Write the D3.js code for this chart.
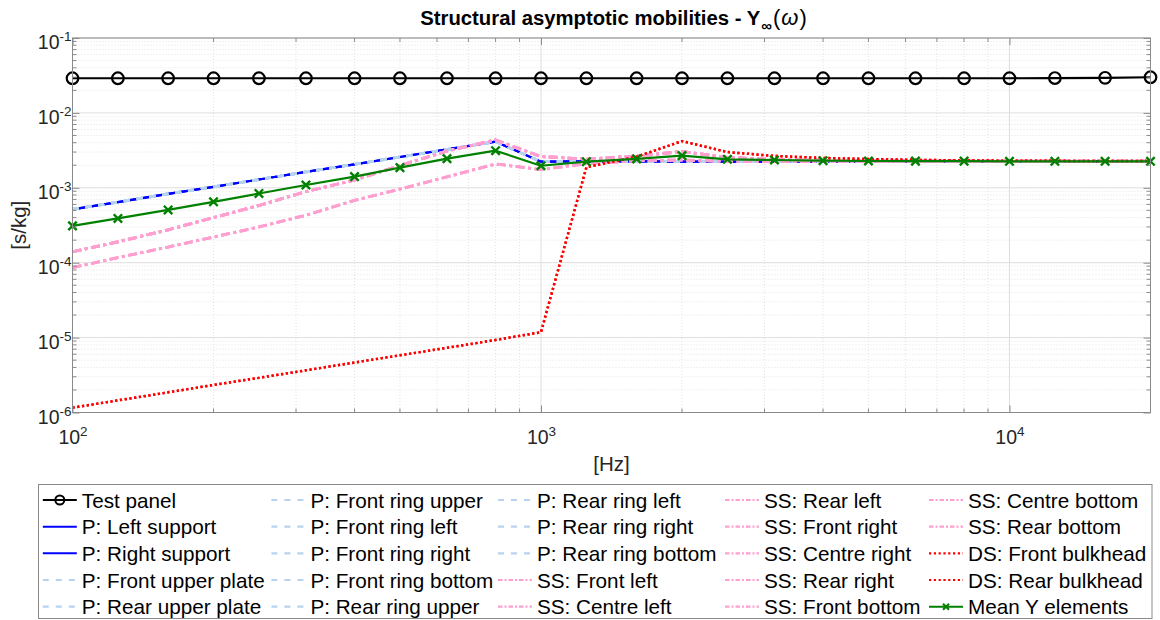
<!DOCTYPE html>
<html>
<head>
<meta charset="utf-8">
<script src="https://cdn.jsdelivr.net/npm/d3@7/dist/d3.min.js"></script>
<style>
  html, body { margin: 0; padding: 0; background: #ffffff; }
  svg { display: block; font-family: "Liberation Sans", Arial, Helvetica, sans-serif; }
</style>
</head>
<body>
<svg id="chart" width="1160" height="620"></svg>
<script>
// ---------------- data ----------------
const freqs = [100,125,160,200,250,315,400,500,630,800,1000,1250,1600,2000,2500,3150,4000,5000,6300,8000,10000,12500,16000,20000];

const testPanel = [0.029,0.029,0.029,0.029,0.029,0.029,0.029,0.029,0.029,0.029,0.029,0.029,0.029,0.029,0.029,0.029,0.029,0.029,0.029,0.029,0.029,0.0292,0.0294,0.0299];

const pSupport = [5.16e-4,6.45e-4,8.3e-4,1.03e-3,1.29e-3,1.63e-3,2.06e-3,2.58e-3,3.25e-3,4.13e-3,2.23e-3,2.26e-3,2.25e-3,2.24e-3,2.24e-3,2.24e-3,2.25e-3,2.25e-3,2.25e-3,2.25e-3,2.25e-3,2.25e-3,2.25e-3,2.25e-3];

const pPanels = [5.16e-4,6.45e-4,8.3e-4,1.03e-3,1.29e-3,1.63e-3,2.06e-3,2.58e-3,3.25e-3,4.13e-3,2.23e-3,2.26e-3,2.25e-3,2.24e-3,2.24e-3,2.24e-3,2.25e-3,2.25e-3,2.25e-3,2.25e-3,2.25e-3,2.25e-3,2.25e-3,2.25e-3];

const ssOuter = [1.4e-4,1.9e-4,2.75e-4,4.0e-4,5.8e-4,8.9e-4,1.27e-3,1.98e-3,3.1e-3,4.35e-3,2.61e-3,2.42e-3,2.65e-3,3.05e-3,2.55e-3,2.38e-3,2.32e-3,2.3e-3,2.28e-3,2.28e-3,2.27e-3,2.27e-3,2.27e-3,2.27e-3];

const ssCentre = [8.6e-5,1.17e-4,1.62e-4,2.2e-4,3.0e-4,4.3e-4,6.8e-4,9.6e-4,1.4e-3,2.08e-3,1.75e-3,2.1e-3,2.3e-3,2.35e-3,2.25e-3,2.24e-3,2.24e-3,2.24e-3,2.24e-3,2.24e-3,2.24e-3,2.24e-3,2.24e-3,2.24e-3];

const dsBulkhead = [1.16e-6,1.45e-6,1.86e-6,2.33e-6,2.9e-6,3.66e-6,4.65e-6,5.8e-6,7.3e-6,9.3e-6,1.18e-5,1.88e-3,2.6e-3,4.2e-3,3.0e-3,2.66e-3,2.5e-3,2.42e-3,2.36e-3,2.32e-3,2.3e-3,2.29e-3,2.28e-3,2.28e-3];

const meanY = [3.1e-4,3.9e-4,5.06e-4,6.5e-4,8.4e-4,1.09e-3,1.41e-3,1.86e-3,2.45e-3,3.13e-3,1.97e-3,2.23e-3,2.43e-3,2.69e-3,2.4e-3,2.35e-3,2.3e-3,2.28e-3,2.27e-3,2.27e-3,2.26e-3,2.26e-3,2.26e-3,2.26e-3];

const seriesNames = [
  "Test panel",
  "P: Left support","P: Right support",
  "P: Front upper plate","P: Rear upper plate",
  "P: Front ring upper","P: Front ring left","P: Front ring right","P: Front ring bottom",
  "P: Rear ring upper","P: Rear ring left","P: Rear ring right","P: Rear ring bottom",
  "SS: Front left","SS: Centre left","SS: Rear left","SS: Front right","SS: Centre right",
  "SS: Rear right","SS: Front bottom","SS: Centre bottom","SS: Rear bottom",
  "DS: Front bulkhead","DS: Rear bulkhead",
  "Mean Y elements"
];

const xTickValues = [100, 1000, 10000];
const yTickValues = [1e-6, 1e-5, 1e-4, 1e-3, 1e-2, 1e-1];
const titleMain = "Structural asymptotic mobilities - Y";
const titleSub = "\u221e";
const titleArg = "\u03c9";
const xLabel = "[Hz]";
const yLabel = "[s/kg]";

// ---------------- styling by group ----------------
function styleFor(name) {
  if (name === "Test panel") return {color:"#000000", width:2.2, dash:null, marker:"o", values:testPanel};
  if (name === "Mean Y elements") return {color:"#008000", width:2.2, dash:null, marker:"x", values:meanY};
  if (name.startsWith("DS:")) return {color:"#ff0000", width:2.5, dash:"2.2,2.6", marker:null, values:dsBulkhead};
  if (name.startsWith("SS:")) {
    const centre = name.indexOf("Centre") >= 0;
    return {color:"#ff9fd0", width:2.8, dash:"9,3.5,3,3.5", marker:null, values: centre ? ssCentre : ssOuter};
  }
  if (name.indexOf("support") >= 0) return {color:"#0000ff", width:2.2, dash:null, marker:null, values:pSupport};
  return {color:"#b7d3f0", width:2.6, dash:"6,7", marker:null, values:pPanels};
}

// ---------------- layout ----------------
const svg = d3.select("#chart");
const L = 72.5, R = 1150.5, T = 38, B = 412.5;
const axisColor = "#8a8a8a";
const textColor = "#262626";

const x = d3.scaleLog().domain([100, 20000]).range([L, R]);
const y = d3.scaleLog().domain([1e-6, 1e-1]).range([B, T]);

const gGrid = svg.append("g");
const xMinor = x.ticks().filter(v => xTickValues.indexOf(v) < 0);
const yMinor = y.ticks().filter(v => !yTickValues.some(t => Math.abs(t - v) / t < 1e-9));
gGrid.selectAll("line.xmin").data(xMinor).enter().append("line")
  .attr("x1", d => x(d)).attr("x2", d => x(d)).attr("y1", T).attr("y2", B)
  .attr("stroke", "#e3e3e3").attr("stroke-width", 1).attr("stroke-dasharray", "1,2");
gGrid.selectAll("line.ymin").data(yMinor).enter().append("line")
  .attr("y1", d => y(d)).attr("y2", d => y(d)).attr("x1", L).attr("x2", R)
  .attr("stroke", "#e3e3e3").attr("stroke-width", 1).attr("stroke-dasharray", "1,2");
gGrid.selectAll("line.xmaj").data(xTickValues).enter().append("line")
  .attr("x1", d => x(d)).attr("x2", d => x(d)).attr("y1", T).attr("y2", B)
  .attr("stroke", "#dedede").attr("stroke-width", 1);
gGrid.selectAll("line.ymaj").data(yTickValues).enter().append("line")
  .attr("y1", d => y(d)).attr("y2", d => y(d)).attr("x1", L).attr("x2", R)
  .attr("stroke", "#dedede").attr("stroke-width", 1);

// ---------------- series ----------------
const line = d3.line().x((d, i) => x(freqs[i])).y(d => y(d));
const gLines = svg.append("g");
const styled = seriesNames.map(n => Object.assign({name: n}, styleFor(n)));

styled.forEach(s => {
  gLines.append("path")
    .attr("d", line(s.values))
    .attr("fill", "none")
    .attr("stroke", s.color)
    .attr("stroke-width", s.width)
    .attr("stroke-dasharray", s.dash)
    .attr("stroke-linejoin", "round");
  if (s.marker === "o") {
    gLines.selectAll(null).data(s.values).enter().append("circle")
      .attr("cx", (d, i) => x(freqs[i])).attr("cy", d => y(d)).attr("r", 5.8)
      .attr("fill", "none").attr("stroke", s.color).attr("stroke-width", 2.2);
  } else if (s.marker === "x") {
    const k = 4.2;
    gLines.selectAll(null).data(s.values).enter().append("path")
      .attr("d", (d, i) => {
        const cx = x(freqs[i]), cy = y(d);
        return `M${cx-k},${cy-k}L${cx+k},${cy+k}M${cx-k},${cy+k}L${cx+k},${cy-k}`;
      })
      .attr("stroke", s.color).attr("stroke-width", 2.4).attr("fill", "none");
  }
});

// ---------------- axes ----------------
function supLabel(sel, anchor) {
  sel.each(function(d) {
    const t = d3.select(this);
    t.text(null);
    t.attr("text-anchor", anchor).attr("fill", textColor).attr("font-size", 19.5);
    t.append("tspan").text("10");
    t.append("tspan").attr("font-size", 13.5).attr("dy", -8).text(Math.round(Math.log10(d)));
  });
}

const xAxis = svg.append("g").attr("transform", `translate(0,${B})`)
  .call(d3.axisBottom(x).tickValues(xTickValues).tickSize(-7).tickPadding(0).tickSizeOuter(0));
xAxis.select(".domain").remove();
xAxis.selectAll(".tick line").attr("stroke", axisColor);
xAxis.selectAll(".tick text").attr("y", 31).attr("dy", 0).call(supLabel, "middle");

const yAxis = svg.append("g").attr("transform", `translate(${L},0)`)
  .call(d3.axisLeft(y).tickValues(yTickValues).tickSize(-7).tickPadding(0).tickSizeOuter(0));
yAxis.select(".domain").remove();
yAxis.selectAll(".tick line").attr("stroke", axisColor);
yAxis.selectAll(".tick text").attr("x", -1).attr("dy", 0).attr("y", 10.5).call(supLabel, "end");

const xTop = svg.append("g").attr("transform", `translate(0,${T})`)
  .call(d3.axisTop(x).tickValues(xTickValues).tickSize(-7).tickFormat("").tickSizeOuter(0));
xTop.select(".domain").remove();
xTop.selectAll(".tick line").attr("stroke", axisColor);
const yRight = svg.append("g").attr("transform", `translate(${R},0)`)
  .call(d3.axisRight(y).tickValues(yTickValues).tickSize(-7).tickFormat("").tickSizeOuter(0));
yRight.select(".domain").remove();
yRight.selectAll(".tick line").attr("stroke", axisColor);

const gMinorTicks = svg.append("g").attr("stroke", axisColor).attr("stroke-width", 1);
xMinor.forEach(v => {
  gMinorTicks.append("line").attr("x1", x(v)).attr("x2", x(v)).attr("y1", B).attr("y2", B - 4);
  gMinorTicks.append("line").attr("x1", x(v)).attr("x2", x(v)).attr("y1", T).attr("y2", T + 4);
});
yMinor.forEach(v => {
  gMinorTicks.append("line").attr("y1", y(v)).attr("y2", y(v)).attr("x1", L).attr("x2", L + 4);
  gMinorTicks.append("line").attr("y1", y(v)).attr("y2", y(v)).attr("x1", R).attr("x2", R - 4);
});

svg.append("rect").attr("x", L).attr("y", T).attr("width", R - L).attr("height", B - T)
  .attr("fill", "none").attr("stroke", axisColor).attr("stroke-width", 1);

// axis labels
svg.append("text").attr("x", (L + R) / 2).attr("y", 471).attr("text-anchor", "middle")
  .attr("font-size", 20.5).attr("fill", textColor).text(xLabel);
svg.append("text").attr("transform", `translate(26,${(T + B) / 2}) rotate(-90)`)
  .attr("text-anchor", "middle").attr("font-size", 20.5).attr("fill", textColor).text(yLabel);

// title
const title = svg.append("text").attr("x", (L + R) / 2 + 2).attr("y", 25).attr("text-anchor", "middle")
  .attr("font-size", 20.3).attr("font-weight", "bold").attr("fill", "#000");
title.append("tspan").text(titleMain);
title.append("tspan").attr("font-size", 15).attr("dy", 6).attr("dx", 1).text(titleSub);
title.append("tspan").attr("dy", -6).attr("dx", 1).attr("font-weight", "normal").attr("font-size", 22).text("(");
title.append("tspan").attr("font-weight", "normal").attr("font-size", 22).attr("font-style", "italic").attr("dx", 1).text(titleArg);
title.append("tspan").attr("font-weight", "normal").attr("font-size", 22).attr("dx", 1).text(")");

// ---------------- legend ----------------
const legX0 = 38.5, legY0 = 484.5, legW = 1113.5, legH = 134;
svg.append("rect").attr("x", legX0).attr("y", legY0).attr("width", legW).attr("height", legH)
  .attr("fill", "#ffffff").attr("stroke", axisColor).attr("stroke-width", 1);
const colText = [81.8, 310.4, 537, 764, 968];
const rowH = 26.67, row0 = 500;
const gLeg = svg.append("g");
styled.forEach((s, i) => {
  const col = Math.floor(i / 5), row = i % 5;
  const cy = row0 + row * rowH;
  const tx = colText[col];
  const x1 = tx - 39, x2 = tx - 5;
  gLeg.append("line").attr("x1", x1).attr("x2", x2).attr("y1", cy).attr("y2", cy)
    .attr("stroke", s.color).attr("stroke-width", s.dash ? Math.min(s.width, 2.2) : 2)
    .attr("stroke-dasharray", s.name.startsWith("SS:") ? "4.5,2,2,2" : s.dash);
  const mx = (x1 + x2) / 2;
  if (s.marker === "o") {
    gLeg.append("circle").attr("cx", mx).attr("cy", cy).attr("r", 4.5)
      .attr("fill", "none").attr("stroke", s.color).attr("stroke-width", 2);
  } else if (s.marker === "x") {
    const k = 3;
    gLeg.append("path").attr("d", `M${mx-k},${cy-k}L${mx+k},${cy+k}M${mx-k},${cy+k}L${mx+k},${cy-k}`)
      .attr("stroke", s.color).attr("stroke-width", 2);
  }
  gLeg.append("text").attr("x", tx).attr("y", cy + 7.5).attr("font-size", 20.7).attr("fill", "#000")
    .text(s.name);
});
</script>
</body>
</html>
